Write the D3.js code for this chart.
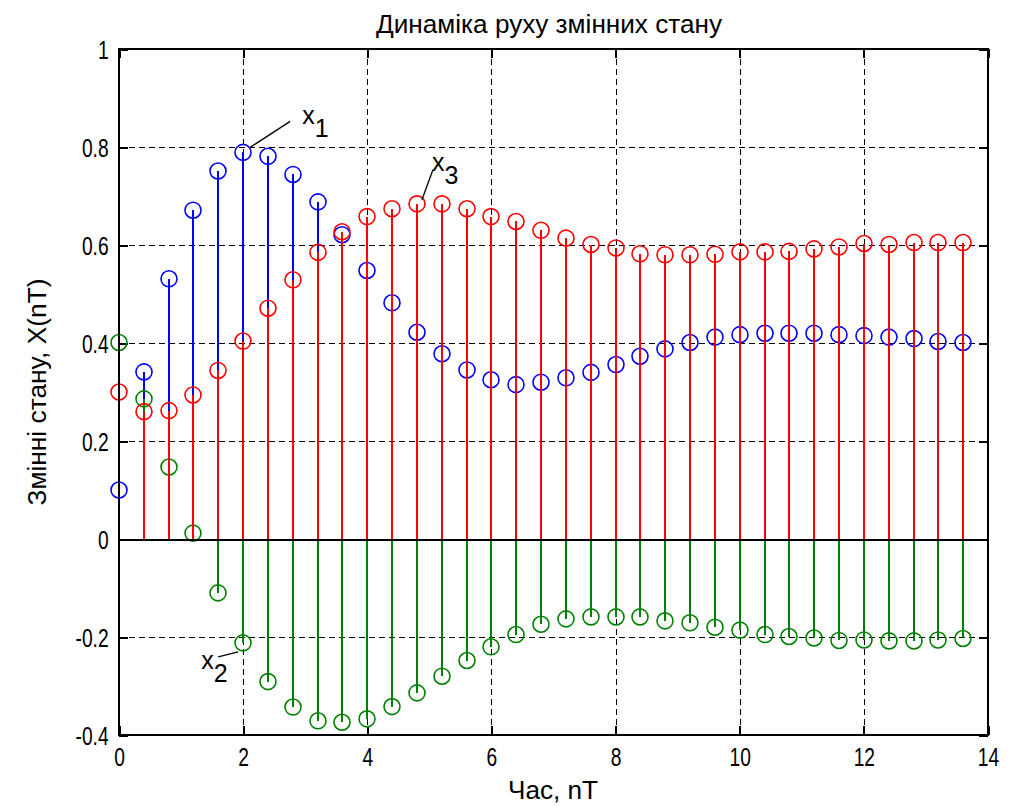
<!DOCTYPE html>
<html>
<head>
<meta charset="utf-8">
<script src="https://cdn.jsdelivr.net/npm/d3@7"></script>
<style>
  html, body { margin: 0; padding: 0; background: #ffffff; }
  svg { display: block; }
  text { font-family: "Liberation Sans", Arial, sans-serif; fill: #000; }
</style>
</head>
<body>
<svg id="chart" width="1013" height="806"></svg>
<script>
// Sampling instants, nT
const timeSteps = [0, 0.4, 0.8, 1.2, 1.6, 2.0, 2.4, 2.8, 3.2, 3.6, 4.0, 4.4, 4.8, 5.2, 5.6,
  6.0, 6.4, 6.8, 7.2, 7.6, 8.0, 8.4, 8.8, 9.2, 9.6, 10.0, 10.4, 10.8, 11.2, 11.6,
  12.0, 12.4, 12.8, 13.2, 13.6];

// State variables x1, x2, x3
const x1 = [0.100, 0.341, 0.531, 0.671, 0.751, 0.789, 0.781, 0.744, 0.688, 0.621, 0.548, 0.482,
  0.422, 0.378, 0.345, 0.325, 0.315, 0.320, 0.329, 0.340, 0.356, 0.373, 0.388, 0.401, 0.412,
  0.417, 0.420, 0.420, 0.420, 0.417, 0.415, 0.412, 0.409, 0.403, 0.401];
const x2 = [0.401, 0.286, 0.147, 0.012, -0.110, -0.212, -0.291, -0.343, -0.371, -0.374, -0.367,
  -0.342, -0.314, -0.280, -0.248, -0.220, -0.195, -0.174, -0.163, -0.159, -0.159, -0.159, -0.167,
  -0.171, -0.180, -0.186, -0.195, -0.199, -0.202, -0.207, -0.206, -0.208, -0.208, -0.206, -0.203];
const x3 = [0.300, 0.260, 0.262, 0.294, 0.344, 0.404, 0.471, 0.529, 0.585, 0.627, 0.658, 0.674,
  0.684, 0.684, 0.674, 0.658, 0.648, 0.630, 0.614, 0.601, 0.594, 0.582, 0.580, 0.580, 0.581,
  0.586, 0.586, 0.587, 0.592, 0.596, 0.603, 0.601, 0.605, 0.605, 0.605];

const xTicks = [0, 2, 4, 6, 8, 10, 12, 14];
const yTicks = [-0.4, -0.2, 0, 0.2, 0.4, 0.6, 0.8, 1];
const seriesNames = ["x1", "x2", "x3"];
const seriesColors = ["#0000ff", "#008000", "#ff0000"];

const titleText = "Динаміка руху змінних стану";
const xLabelText = "Час, nT";
const yLabelText = "Змінні стану, X(nT)";

const svg = d3.select("#chart");
const plotL = 119, plotR = 988, plotT = 49, plotB = 735;

const x = d3.scaleLinear().domain([0, 14]).range([plotL, plotR]);
const y = d3.scaleLinear().domain([-0.4, 1]).range([plotB, plotT]);
// pixel-aligned positions for crisp vertical/horizontal rules
const xs = v => Math.round(x(v));
const ys = v => Math.round(y(v)) + 0.5;

const fmt = d => (d === 0 ? "0" : String(d));

// grid
const grid = svg.append("g").attr("stroke", "#000").attr("stroke-width", 1)
  .attr("stroke-dasharray", "6,4").attr("fill", "none").attr("shape-rendering", "crispEdges");
xTicks.filter(d => d > 0 && d < 14).forEach(d => {
  grid.append("line").attr("x1", xs(d) + 0.5).attr("x2", xs(d) + 0.5).attr("y1", plotT).attr("y2", plotB);
});
yTicks.filter(d => d > -0.4 && d < 1).forEach(d => {
  grid.append("line").attr("x1", plotL).attr("x2", plotR).attr("y1", ys(d)).attr("y2", ys(d));
});

// axes with inward ticks
const tickLen = 9;
const axB = svg.append("g").attr("transform", `translate(0,${plotB})`)
  .call(d3.axisBottom(x).tickValues(xTicks).tickFormat(fmt).tickSizeInner(-tickLen).tickSizeOuter(0).tickPadding(13));
const axT = svg.append("g").attr("transform", `translate(0,${plotT})`)
  .call(d3.axisTop(x).tickValues(xTicks).tickFormat("").tickSizeInner(-tickLen).tickSizeOuter(0));
const axL = svg.append("g").attr("transform", `translate(${plotL},0)`)
  .call(d3.axisLeft(y).tickValues(yTicks).tickFormat(fmt).tickSizeInner(-tickLen).tickSizeOuter(0).tickPadding(14));
const axR = svg.append("g").attr("transform", `translate(${plotR},0)`)
  .call(d3.axisRight(y).tickValues(yTicks).tickFormat("").tickSizeInner(-tickLen).tickSizeOuter(0));
[axB, axT, axL, axR].forEach(a => {
  a.select(".domain").remove();
  a.selectAll(".tick line").attr("stroke", "#000").attr("stroke-width", 2).attr("shape-rendering", "crispEdges");
  a.selectAll("text").style("font-family", "'Liberation Sans', Arial, sans-serif")
    .style("font-size", "26px").attr("fill", "#000");
});
axB.selectAll(".tick text").attr("transform", "scale(0.74,1)").attr("dy", "0.71em");
axL.selectAll(".tick text").attr("transform", "scale(0.74,1)").attr("dy", "0.36em");

// stems: x1 drawn first, x3 on top
const series = [x1, x2, x3];
series.forEach((vals, si) => {
  const g = svg.append("g").attr("class", "stem-" + seriesNames[si]);
  const pts = timeSteps.map((t, i) => ({ t, v: vals[i] }));
  g.selectAll("line").data(pts).join("line")
    .attr("x1", d => xs(d.t)).attr("x2", d => xs(d.t))
    .attr("y1", y(0)).attr("y2", d => y(d.v))
    .attr("stroke", seriesColors[si]).attr("stroke-width", 2)
    .attr("shape-rendering", "crispEdges");
  g.selectAll("circle").data(pts).join("circle")
    .attr("cx", d => xs(d.t)).attr("cy", d => y(d.v)).attr("r", 8)
    .attr("fill", "none").attr("stroke", seriesColors[si]).attr("stroke-width", 1.6);
});

// baseline at zero
svg.append("line").attr("x1", plotL).attr("x2", plotR).attr("y1", ys(0)).attr("y2", ys(0))
  .attr("stroke", "#000").attr("stroke-width", 2).attr("shape-rendering", "crispEdges");

// axes box
svg.append("rect").attr("x", plotL).attr("y", plotT).attr("width", plotR - plotL).attr("height", plotB - plotT)
  .attr("fill", "none").attr("stroke", "#000").attr("stroke-width", 2).attr("shape-rendering", "crispEdges");

// annotations pointing at the curves
function annotate(t, v, lineFrom, lineTo, textAt, base, sub) {
  const px = x(t), py = y(v);
  svg.append("line")
    .attr("x1", px + lineFrom[0]).attr("y1", py + lineFrom[1])
    .attr("x2", px + lineTo[0]).attr("y2", py + lineTo[1])
    .attr("stroke", "#000").attr("stroke-width", 1.3);
  const tx = svg.append("text").attr("x", px + textAt[0]).attr("y", py + textAt[1])
    .style("font-size", "25px");
  tx.append("tspan").text(base);
  tx.append("tspan").attr("dy", 13).text(sub);
}
annotate(timeSteps[5], x1[5], [7, -5], [47, -31], [59, -28], "x", "1");
annotate(timeSteps[12], x3[12], [5, -4], [16, -34], [15, -33], "x", "3");
annotate(timeSteps[5], x2[5], [-5, 9], [-25, 14], [-42, 26], "x", "2");

// title and axis labels
svg.append("text").attr("x", 549).attr("y", 33).attr("text-anchor", "middle")
  .style("font-size", "26px").attr("textLength", 346).attr("lengthAdjust", "spacingAndGlyphs")
  .text(titleText);
svg.append("text").attr("x", 553).attr("y", 799).attr("text-anchor", "middle")
  .style("font-size", "26px").attr("textLength", 90).attr("lengthAdjust", "spacingAndGlyphs")
  .text(xLabelText);
svg.append("text").attr("transform", "translate(46,392) rotate(-90)").attr("text-anchor", "middle")
  .style("font-size", "26px").attr("textLength", 227).attr("lengthAdjust", "spacingAndGlyphs")
  .text(yLabelText);
</script>
</body>
</html>
